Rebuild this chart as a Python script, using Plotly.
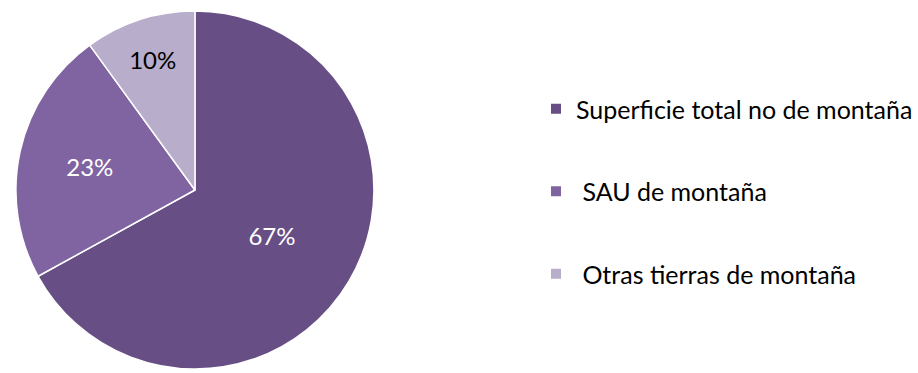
import plotly.graph_objects as go

# Land area shares (percent)
categories = ["Superficie total no de montaña", "\u00a0SAU de montaña", "\u00a0Otras tierras de montaña"]
values = [67, 23, 10]
colors = ["#674f86", "#8064a2", "#b8adca"]
text_colors = ["#ffffff", "#ffffff", "#000000"]

W, H = 918, 373
FONT = "Lato"

fig = go.Figure()

fig.add_trace(go.Pie(
    labels=categories,
    values=values,
    sort=False,
    direction="clockwise",
    rotation=0,
    marker=dict(colors=colors, line=dict(color="#ffffff", width=1.5)),
    texttemplate="%{percent:.0%}",
    textposition="inside",
    insidetextorientation="horizontal",
    textfont=dict(family=FONT, size=24, color=text_colors),
    showlegend=False,
    hoverinfo="label+percent",
    domain=dict(x=[16 / W, 376 / W], y=[3 / H, 363 / H]),
))

# Legend entries, one group each so they can be spaced apart
for name, col in zip(categories, colors):
    fig.add_trace(go.Scatter(
        x=[None], y=[None], mode="markers", name=name,
        marker=dict(symbol="square", size=10, color=col),
        legendgroup=name, showlegend=True,
    ))

fig.update_layout(
    width=W, height=H,
    margin=dict(l=0, r=0, t=0, b=0),
    paper_bgcolor="#ffffff",
    plot_bgcolor="#ffffff",
    xaxis=dict(visible=False),
    yaxis=dict(visible=False),
    legend=dict(
        x=539 / W, xanchor="left",
        y=1 - 86 / H, yanchor="top",
        font=dict(family=FONT, size=25, color="#000000"),
        tracegroupgap=47,
        bgcolor="rgba(0,0,0,0)",
    ),
)

fig.write_html("out.html")
